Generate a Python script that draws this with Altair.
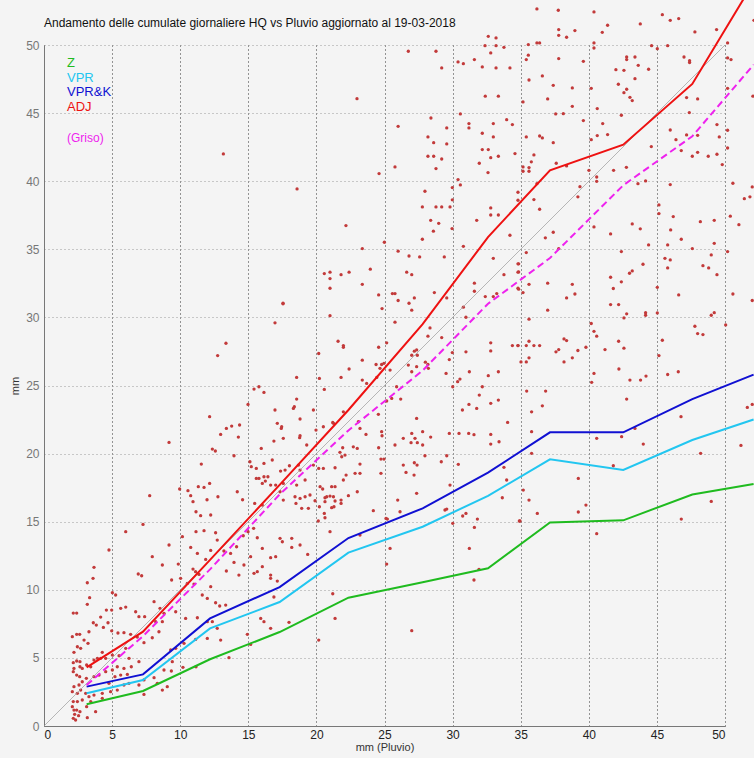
import altair as alt
import pandas as pd

TITLE = "Andamento delle cumulate giornaliere HQ vs Pluvio aggiornato al 19-03-2018"
FONT = "Liberation Sans"

# --- mean curves (x = mm Pluvio, y = mm) ---
line_x = [3.13, 7.27, 12.19, 17.3, 22.35, 27.8, 32.6, 37.15, 42.53, 47.6, 52.1]
z_vals = [1.6, 2.57, 4.9, 6.9, 9.42, 10.55, 11.58, 14.95, 15.1, 17.0, 17.77]
vpr_vals = [2.4, 3.38, 7.17, 9.1, 12.73, 14.63, 16.9, 19.58, 18.8, 21.0, 22.5]
vprk_vals = [2.89, 3.79, 7.9, 10.2, 13.8, 15.98, 18.6, 21.56, 21.56, 24.0, 25.8]
adj_vals = [4.31, 6.93, 12.2, 17.7, 23.2, 29.5, 35.9, 40.8, 42.68, 47.14, 54.6]
griso_vals = [3.01, 6.6, 11.5, 17.0, 21.7, 26.1, 31.0, 34.36, 39.7, 43.3, 48.55]

diag_x = [0, 50]

series_names = ["Z", "VPR", "VPR&K", "ADJ"]
series_colors = ["#1fbb1f", "#22c6f0", "#1010d2", "#ee1111"]
griso_name = "(Griso)"
griso_color = "#ee22ee"

# --- daily cumulates (pluvio, HQ) ---
pts_high = [
    [32.62, 50.64], [33.19, 50.52], [32.38, 49.95], [33.19, 49.95], [33.77, 49.83], [32.80, 49.42],
    [26.75, 49.54], [28.78, 49.54], [30.40, 48.76], [30.79, 48.63], [31.60, 48.93], [32.18, 48.39],
    [33.19, 48.32], [29.20, 48.32], [34.21, 48.32], [32.40, 46.24], [33.36, 46.24], [22.98, 46.06],
    [30.57, 44.94], [31.20, 44.23], [31.20, 43.91], [32.99, 44.23], [33.97, 44.52], [34.39, 44.16],
    [28.41, 44.64], [26.00, 44.03], [29.57, 43.91], [28.19, 43.25], [28.61, 42.83], [29.57, 42.74],
    [32.18, 43.52], [32.99, 43.25], [28.19, 41.83], [28.61, 41.83], [29.20, 41.63], [25.77, 41.05],
    [28.78, 40.93], [24.60, 40.56], [34.58, 42.03], [32.18, 42.32], [32.62, 42.32], [32.80, 41.73],
    [33.36, 41.83], [31.96, 41.32], [32.60, 40.63], [30.40, 40.12], [30.57, 39.73], [29.98, 39.53],
    [29.98, 38.63], [27.97, 39.26], [18.58, 39.43], [27.78, 38.11], [28.78, 38.11], [29.20, 38.11],
    [29.81, 38.11], [32.80, 38.04], [32.80, 37.52], [33.36, 37.52], [31.77, 37.13], [28.39, 37.13],
    [28.98, 36.91], [28.59, 36.33], [29.96, 36.52], [22.17, 36.74], [27.78, 35.74], [24.99, 35.52],
    [34.21, 36.03], [30.79, 35.22], [26.00, 34.86], [23.37, 35.05], [26.80, 34.51], [27.58, 34.44],
    [29.39, 34.44], [32.99, 34.34], [26.63, 33.32], [27.00, 33.14], [21.00, 33.32], [21.00, 32.85],
    [20.58, 33.22], [21.81, 33.14], [22.40, 33.32], [23.96, 33.54], [23.37, 32.43], [21.00, 32.14],
    [24.57, 31.65], [25.58, 31.75], [25.77, 31.75], [27.19, 31.43], [26.00, 31.24], [26.80, 31.04],
    [27.00, 30.53], [24.82, 30.65], [29.57, 31.43], [28.66, 31.82], [31.60, 32.51], [31.60, 31.92],
    [32.40, 31.53], [30.79, 30.75], [30.98, 30.01], [32.99, 31.53], [33.24, 31.75], [34.85, 33.93],
    [34.85, 33.34], [34.85, 32.07], [33.77, 33.14], [21.00, 30.13], [17.55, 31.04], [25.77, 29.65],
    [28.34, 29.23], [28.19, 28.62], [29.20, 28.52], [21.59, 28.25], [21.98, 27.93], [21.98, 27.81],
    [25.16, 28.13], [24.57, 27.81], [20.17, 27.35], [27.19, 27.52], [27.36, 27.61], [27.00, 27.22],
    [27.41, 27.22], [29.98, 27.42], [30.98, 27.47], [32.80, 28.13], [32.80, 27.54], [34.39, 27.93],
    [34.80, 27.93], [24.96, 26.63], [23.37, 26.86], [24.38, 26.54], [24.79, 26.54], [28.00, 26.71],
    [28.19, 26.54], [29.76, 26.90],
    [13.17, 42.0], [17.55, 31.0], [16.96, 29.6], [13.36, 28.1], [12.75, 27.2],
]

pts_right_high = [
    [36.19, 52.65], [37.76, 52.55], [40.38, 52.43], [45.40, 52.23], [45.98, 51.81], [46.60, 51.94],
    [43.78, 51.55], [41.38, 51.45], [40.99, 50.93], [37.79, 51.13], [38.98, 51.06], [37.79, 50.71],
    [38.37, 50.57], [47.79, 50.96], [49.38, 51.13], [52.13, 51.81], [35.56, 50.03], [36.19, 50.15],
    [36.39, 50.15], [40.38, 50.15], [40.38, 49.78], [44.61, 49.95], [45.79, 49.95], [45.03, 49.73],
    [35.56, 49.25], [35.41, 48.93], [37.79, 49.00], [39.60, 48.80], [42.78, 49.12], [42.78, 48.93],
    [43.39, 49.12], [43.63, 48.51], [41.99, 48.19], [42.58, 48.14], [44.39, 48.22], [46.99, 49.12],
    [47.40, 48.85], [47.40, 48.71], [50.19, 50.15], [50.19, 49.05], [50.44, 48.93], [35.61, 47.43],
    [36.59, 47.73], [37.39, 47.04], [38.79, 46.85], [40.18, 46.82], [42.17, 47.12], [42.78, 46.75],
    [42.58, 46.50], [43.39, 47.53], [43.02, 46.16], [43.19, 45.92], [35.17, 45.82], [36.98, 46.04],
    [38.13, 44.96], [37.57, 44.94], [38.79, 45.50], [39.60, 44.45], [40.62, 45.33], [42.39, 44.84],
    [41.02, 44.23], [40.62, 43.35], [41.38, 43.42], [40.18, 43.05], [35.41, 43.25], [36.39, 43.32],
    [36.59, 43.18], [37.39, 42.83], [35.97, 41.93], [35.78, 41.42], [35.17, 41.05], [35.61, 41.00],
    [35.17, 40.73], [35.61, 40.73], [37.61, 41.32], [38.37, 41.12], [40.01, 40.80], [41.82, 40.80],
    [42.76, 41.02], [44.59, 42.54], [45.98, 43.76], [46.40, 43.05], [47.18, 43.40], [46.79, 42.25],
    [47.99, 43.37], [47.99, 42.12], [47.60, 41.83], [48.77, 41.83], [49.41, 41.98], [49.41, 44.16],
    [49.58, 43.25], [47.38, 45.04], [47.18, 46.14], [47.99, 46.04], [50.19, 46.82], [50.19, 43.74],
    [50.19, 42.44], [49.80, 41.22], [52.05, 46.24],
]

pts_right_mid = [
    [36.19, 39.82], [34.80, 39.19], [34.80, 38.60], [35.97, 38.65], [36.39, 37.94], [39.20, 38.85],
    [39.35, 39.60], [40.58, 39.99], [40.58, 40.31], [43.61, 39.82], [44.17, 40.02], [45.98, 39.75],
    [45.15, 38.26], [45.15, 37.62], [50.58, 39.85], [52.00, 39.58], [51.83, 38.85], [51.42, 38.72],
    [50.39, 37.43], [51.02, 36.81], [48.19, 37.03], [49.21, 37.13], [46.20, 37.40], [46.01, 36.42],
    [46.79, 35.74], [45.79, 35.32], [44.39, 35.32], [43.19, 36.86], [43.78, 36.50], [40.38, 36.64],
    [41.60, 36.13], [36.81, 35.84], [37.39, 36.25], [37.79, 35.05], [35.41, 34.76], [34.80, 33.93],
    [34.80, 33.32], [35.61, 32.43], [34.80, 32.14], [35.17, 31.82], [36.98, 32.51], [38.79, 32.43],
    [38.98, 31.72], [38.37, 31.43], [36.98, 30.53], [42.39, 34.83], [43.98, 33.90], [43.19, 33.41],
    [42.99, 33.24], [42.39, 32.61], [41.60, 32.95], [41.80, 32.12], [41.60, 30.94], [42.19, 30.94],
    [42.58, 29.96], [42.78, 30.26], [44.17, 30.35], [44.17, 30.16], [45.03, 32.21], [45.59, 34.34],
    [45.98, 34.22], [45.79, 33.63], [47.60, 35.05], [48.38, 33.80], [48.80, 33.63], [49.41, 33.14],
    [49.21, 35.44], [48.99, 34.59], [50.58, 31.72], [52.00, 31.24], [50.19, 34.83], [46.60, 31.65],
    [48.99, 30.16], [49.21, 30.35], [50.05, 29.45], [47.79, 29.35], [47.99, 28.81], [48.38, 28.74],
    [40.18, 29.55], [40.38, 28.98], [40.58, 28.62], [35.61, 29.87], [34.80, 27.93], [35.61, 28.25],
    [35.41, 27.93], [35.97, 27.93], [36.39, 27.93], [38.18, 28.42], [38.37, 28.30], [37.79, 27.64],
    [37.59, 27.47], [38.79, 27.03], [38.18, 26.73], [39.20, 27.57], [39.79, 27.81], [41.19, 27.64],
    [42.19, 28.25], [42.58, 27.74], [35.02, 26.73], [35.41, 26.73], [35.61, 27.03], [45.15, 27.20],
    [45.40, 28.32], [45.03, 30.33],
]

pts_low_left = [
    [15.42, 24.74], [15.78, 24.91], [16.15, 24.49], [14.98, 23.61], [12.16, 22.71], [13.39, 21.85],
    [13.78, 22.02], [14.36, 22.10], [12.97, 21.41], [14.27, 21.21], [12.36, 20.33], [12.58, 20.19],
    [13.95, 19.84], [11.55, 19.23], [15.12, 19.40], [15.22, 19.04], [15.59, 18.91], [16.15, 19.28],
    [16.76, 19.53], [16.96, 23.20], [17.13, 22.22], [17.42, 21.85], [16.88, 20.92], [17.37, 18.72],
    [15.95, 20.38], [15.59, 18.18], [15.78, 18.18], [16.15, 18.30], [16.25, 17.98], [16.03, 17.81],
    [16.44, 18.30], [16.64, 17.69], [17.01, 17.69], [9.18, 20.82], [7.76, 16.91], [9.96, 17.40],
    [10.57, 17.28], [10.77, 16.91], [11.33, 17.57], [12.16, 17.81], [11.75, 17.52], [12.77, 16.83],
    [11.97, 16.61], [14.19, 17.20], [14.58, 16.61], [15.47, 16.34], [16.03, 16.22], [10.94, 16.47],
    [11.16, 15.73], [11.50, 15.44], [12.24, 15.49], [15.39, 14.51], [14.98, 14.27], [14.63, 13.97],
    [15.66, 13.82], [11.16, 14.27], [11.75, 14.34], [12.60, 14.19], [12.72, 13.65], [10.77, 13.11],
    [11.26, 12.67], [11.87, 12.23], [12.24, 12.89], [13.21, 12.85], [14.14, 13.16], [13.70, 12.67],
    [15.17, 12.43], [16.03, 13.04], [16.64, 12.36], [17.01, 12.43], [15.66, 11.33], [15.42, 11.21],
    [14.31, 11.08], [13.39, 11.38], [13.95, 12.01], [14.68, 11.82], [17.50, 13.53], [16.64, 11.08],
    [17.13, 10.64], [16.64, 10.84], [16.03, 11.70], [10.16, 13.90], [9.18, 13.29], [7.95, 12.43],
    [8.69, 11.82], [9.86, 11.89], [6.92, 11.16], [7.17, 11.03], [6.00, 14.27], [4.77, 12.92],
    [7.27, 14.80], [9.37, 10.72], [10.03, 10.84], [10.94, 11.52], [11.13, 11.33], [11.38, 11.13],
    [10.52, 10.47], [11.01, 10.42], [12.24, 10.23], [11.99, 9.37], [11.62, 9.62], [12.60, 9.05],
    [12.90, 8.81], [13.34, 8.88], [8.08, 9.13], [8.52, 8.64], [8.81, 8.27], [9.67, 8.39],
    [10.40, 7.90], [11.26, 7.95], [11.99, 7.66], [12.36, 7.66], [12.72, 7.17], [12.97, 6.31],
    [11.99, 6.43], [11.13, 6.36], [10.28, 6.07], [9.67, 5.70], [9.30, 5.58], [9.42, 4.72],
    [9.35, 4.04], [10.20, 4.31], [11.16, 4.35], [13.58, 5.02], [15.91, 7.90], [16.88, 9.47],
    [14.93, 6.73], [15.17, 5.99], [16.15, 7.66], [16.64, 7.17],
]

pts_origin = [
    [3.67, 11.65], [3.60, 10.84], [3.18, 10.52], [3.35, 9.42], [3.18, 8.93], [2.15, 8.29],
    [2.40, 8.29], [3.62, 7.58], [4.70, 7.58], [4.36, 7.24], [4.97, 6.99], [5.43, 6.83],
    [5.87, 6.85], [6.36, 6.73], [6.85, 6.53], [7.34, 6.12], [7.95, 6.48], [8.44, 6.92],
    [8.69, 7.66], [8.20, 7.66], [7.39, 8.03], [6.97, 8.03], [6.73, 8.39], [6.00, 8.73],
    [5.63, 8.64], [4.97, 8.51], [5.02, 9.79], [5.26, 9.62], [4.58, 8.51], [4.16, 8.00],
    [3.84, 7.41], [3.30, 6.92], [2.94, 6.31], [3.23, 6.07], [2.08, 6.56], [2.40, 6.73],
    [2.62, 6.73], [2.69, 5.70], [2.45, 5.82], [2.20, 5.41], [2.15, 4.65], [2.40, 4.77],
    [2.64, 4.72], [2.64, 4.35], [2.20, 4.23], [2.15, 3.99], [2.40, 3.74], [2.62, 3.62],
    [2.81, 4.23], [3.13, 4.48], [3.43, 4.35], [3.67, 4.84], [3.92, 4.97], [4.16, 4.97],
    [4.28, 5.41], [4.53, 4.97], [5.02, 5.21], [5.51, 5.16], [6.00, 5.70], [6.24, 4.97],
    [6.97, 4.72], [6.41, 4.35], [5.87, 4.23], [5.38, 4.35], [5.02, 4.11], [4.53, 3.99],
    [4.04, 3.74], [3.67, 3.62], [3.11, 3.50], [2.81, 3.25], [2.57, 3.01], [2.20, 2.89],
    [2.08, 2.52], [2.45, 2.40], [2.69, 2.64], [3.06, 2.40], [3.30, 2.15], [3.67, 2.27],
    [4.28, 2.40], [4.89, 2.52], [5.38, 2.64], [5.87, 3.01], [6.24, 3.13], [6.97, 3.01],
    [7.34, 3.38], [7.34, 2.32], [8.08, 3.55], [8.32, 3.13], [8.69, 2.64], [9.05, 2.89],
    [8.81, 4.11], [5.63, 3.74], [6.12, 3.79], [5.21, 3.62], [4.77, 3.13], [4.28, 2.03],
    [3.79, 1.05], [3.43, 1.79], [3.13, 1.42], [2.81, 1.91], [2.45, 1.79], [2.15, 1.79],
    [2.08, 1.42], [2.20, 1.17], [2.40, 1.17], [2.64, 1.05], [2.25, 0.86], [2.54, 0.76],
    [2.15, 0.56], [2.32, 0.44], [3.18, 0.61],
]

pts_mid = [
    [18.55, 25.59], [22.40, 26.21], [21.81, 25.59], [20.22, 25.52], [20.58, 24.71], [23.37, 25.40],
    [23.69, 25.15], [24.43, 25.59], [24.67, 26.26], [25.41, 26.13], [25.89, 24.91], [26.75, 26.50],
    [27.00, 26.01], [27.36, 26.38], [28.22, 26.26], [29.52, 25.89], [30.01, 24.91], [30.37, 25.28],
    [30.54, 25.47], [31.23, 26.01], [32.62, 25.72], [33.36, 26.01], [32.18, 24.91], [31.96, 24.30],
    [31.77, 23.32], [32.80, 23.69], [33.36, 23.93], [31.20, 23.61], [30.72, 23.20], [18.55, 24.00],
    [18.31, 23.32], [18.38, 23.44], [18.80, 22.54], [19.78, 23.20], [17.45, 21.97], [17.57, 21.12],
    [18.80, 21.31], [18.77, 21.17], [19.29, 20.63], [19.97, 21.73], [20.51, 21.97], [21.25, 22.22],
    [21.20, 22.29], [21.98, 23.07], [23.08, 22.34], [23.64, 21.41], [23.20, 21.85], [24.55, 22.88],
    [25.16, 23.86], [25.53, 24.05], [26.19, 24.00], [27.36, 22.58], [24.79, 21.61], [24.82, 21.31],
    [26.38, 21.12], [27.00, 21.48], [26.95, 20.80], [27.24, 21.12], [27.41, 20.80], [27.80, 21.61],
    [27.80, 20.63], [28.39, 21.21], [25.77, 20.63], [24.57, 20.43], [22.71, 20.50], [23.00, 20.38],
    [21.93, 20.43], [21.73, 20.09], [21.37, 18.96], [20.51, 18.91], [20.17, 18.91], [19.78, 19.16],
    [18.68, 19.16], [18.02, 19.11], [17.70, 18.79], [18.80, 18.79], [19.17, 18.06], [17.57, 17.81],
    [18.55, 17.69], [20.27, 17.57], [20.46, 17.40], [21.12, 17.57], [21.37, 17.57], [20.63, 16.76],
    [20.76, 16.83], [21.00, 16.88], [21.25, 16.83], [20.63, 16.47], [21.37, 16.52], [21.81, 16.59],
    [21.12, 16.03], [21.29, 16.10], [21.81, 16.34], [22.35, 16.91], [23.00, 17.20], [21.98, 18.06],
    [22.84, 18.55], [23.20, 18.55], [22.18, 18.42], [23.20, 19.23], [22.10, 19.89], [21.86, 19.77],
    [24.74, 19.60], [24.96, 19.60], [24.74, 18.55], [26.38, 19.16], [26.58, 18.62], [27.19, 19.33],
    [27.39, 19.16], [27.17, 18.42], [27.97, 19.84], [29.17, 19.40], [29.57, 19.84], [30.42, 19.21],
    [29.81, 17.69], [27.36, 17.08], [25.97, 16.59], [26.14, 15.73], [24.18, 15.81], [25.11, 15.24],
    [25.21, 15.19], [29.44, 15.86], [29.57, 15.93], [30.01, 14.88], [30.74, 15.42], [30.98, 15.61],
    [31.60, 14.58], [31.82, 15.19], [34.90, 15.05], [31.23, 13.04], [31.94, 11.50], [31.57, 10.72],
    [29.76, 21.48], [30.47, 21.48], [31.18, 21.48], [31.57, 21.39], [32.80, 21.41], [32.80, 20.70],
    [33.41, 20.87], [33.65, 16.76], [33.97, 18.06], [34.04, 22.29], [33.77, 18.99], [17.33, 17.20],
    [17.57, 16.59], [18.43, 16.83], [18.80, 16.71], [19.17, 16.83], [18.50, 16.34], [18.92, 15.98],
    [19.41, 15.98], [19.53, 16.96], [19.90, 16.54], [20.22, 16.10], [20.58, 15.61], [20.63, 15.29],
    [20.14, 15.05], [21.00, 14.27], [23.20, 14.02], [17.33, 13.78], [18.19, 13.78], [18.19, 13.11],
    [18.80, 13.29], [19.36, 12.60], [25.41, 13.04], [25.16, 11.89], [21.20, 9.71], [21.37, 7.90],
    [17.99, 7.61], [20.17, 6.31], [27.00, 7.00],
]

pts_low_right = [
    [40.38, 25.89], [40.21, 25.23], [42.21, 26.21], [43.02, 25.40], [43.80, 25.40], [44.20, 25.69],
    [45.79, 25.81], [46.57, 26.01], [42.78, 24.00], [35.44, 24.59], [36.83, 24.59], [36.59, 23.51],
    [35.80, 23.07], [35.80, 21.61], [35.80, 20.02], [40.58, 21.12], [42.41, 21.24], [43.39, 21.85],
    [44.00, 20.70], [46.77, 22.71], [51.64, 23.39], [52.00, 23.61], [51.17, 20.60], [48.21, 20.02],
    [41.80, 19.11], [39.23, 18.18], [35.19, 17.32], [35.61, 16.59], [36.22, 15.61], [34.95, 15.05],
    [39.23, 15.71], [39.79, 16.22], [40.58, 14.12], [48.99, 16.49], [46.79, 15.19],
]

# ---------------------------------------------------------------------------
all_pts = pts_high + pts_right_high + pts_right_mid + pts_low_left + pts_origin + pts_mid + pts_low_right
df_pts = pd.DataFrame(all_pts, columns=["pluvio", "hq"])

xs = alt.Scale(domain=[0, 50], nice=False, zero=False)
ys = alt.Scale(domain=[0, 50], nice=False, zero=False)

x_axis = alt.Axis(
    values=list(range(0, 51, 5)), grid=True, gridColor="#333333", gridDash=[1, 3], gridWidth=1,
    domainColor="#777777", tickSize=0, labelFontSize=12, labelColor="#222222", labelPadding=3,
    labelFont=FONT, title="mm (Pluvio)", titleFont=FONT, titleFontSize=11,
    titleFontWeight="normal", titleColor="#333333", titlePadding=1,
)
y_axis = alt.Axis(
    values=list(range(0, 51, 5)), grid=True, gridColor="#9a9a9a", gridDash=[1, 3], gridWidth=1,
    domainColor="#777777", tickSize=0, labelFontSize=12, labelColor="#777777", labelPadding=5,
    labelFont=FONT, title="mm", titleFont=FONT, titleFontSize=11,
    titleFontWeight="normal", titleColor="#333333", titlePadding=5,
)

points = alt.Chart(df_pts).mark_circle(size=11, color="#c23a3a", opacity=1, clip=False).encode(
    x=alt.X("pluvio:Q", scale=xs, axis=x_axis),
    y=alt.Y("hq:Q", scale=ys, axis=y_axis),
)

df_diag = pd.DataFrame({"x": diag_x, "y": diag_x})
diag = alt.Chart(df_diag).mark_line(color="#999999", strokeWidth=0.7, clip=False).encode(
    x=alt.X("x:Q", scale=xs), y=alt.Y("y:Q", scale=ys)
)

layers = [points, diag]
for name, color, vals in zip(series_names, series_colors, [z_vals, vpr_vals, vprk_vals, adj_vals]):
    d = pd.DataFrame({"x": line_x, "y": vals})
    layers.append(
        alt.Chart(d).mark_line(color=color, strokeWidth=2, clip=False).encode(
            x=alt.X("x:Q", scale=xs), y=alt.Y("y:Q", scale=ys)
        )
    )

d_g = pd.DataFrame({"x": line_x, "y": griso_vals})
layers.append(
    alt.Chart(d_g).mark_line(color=griso_color, strokeWidth=2, strokeDash=[7, 4], clip=False).encode(
        x=alt.X("x:Q", scale=xs), y=alt.Y("y:Q", scale=ys)
    )
)

# legend texts (top-left, inside plot)
legend_y = [18, 32.5, 47, 62]
for name, color, yy in zip(series_names, series_colors, legend_y):
    layers.append(
        alt.Chart(pd.DataFrame({"t": [name]})).mark_text(
            align="left", baseline="middle", font=FONT, fontSize=13, color=color
        ).encode(x=alt.value(23), y=alt.value(yy), text="t:N")
    )
layers.append(
    alt.Chart(pd.DataFrame({"t": [griso_name]})).mark_text(
        align="left", baseline="middle", font=FONT, fontSize=12, color=griso_color
    ).encode(x=alt.value(23), y=alt.value(93), text="t:N")
)

# chart title drawn as text above the plot area
layers.append(
    alt.Chart(pd.DataFrame({"t": [TITLE]})).mark_text(
        align="left", baseline="alphabetic", font=FONT, fontSize=12, color="#111111"
    ).encode(x=alt.value(0), y=alt.value(-18), text="t:N")
)

chart = alt.layer(*layers).properties(
    width=681,
    height=681,
    background="#f4f4f4",
    padding={"left": 44, "top": 45, "right": 29, "bottom": 32},
    autosize=alt.AutoSizeParams(type="none"),
).configure_view(stroke=None, fill="#f4f4f4")

chart.save("out.html", embed_options={"renderer": "svg", "actions": False})
